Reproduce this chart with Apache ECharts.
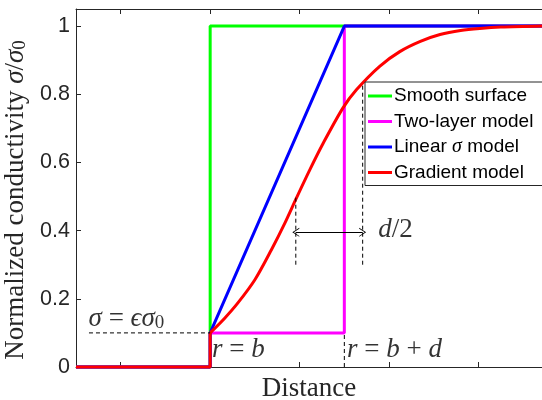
<!DOCTYPE html>
<html><head><meta charset="utf-8">
<script src="https://cdn.jsdelivr.net/npm/echarts@6/dist/echarts.min.js"></script>
<style>html,body{margin:0;padding:0;background:#fff}#c{width:542px;height:400px}</style>
</head><body><div id="c"></div>
<script>
// ---- data ----
const xTicks = [1, 3, 5, 7, 9];
const yTicks = [0, 0.2, 0.4, 0.6, 0.8, 1];
const seriesNames = ['Smooth surface', 'Two-layer model', 'Linear σ model', 'Gradient model'];
const smoothSurface = [[0, 0], [3, 0], [3, 1], [11, 1]];
const twoLayer = [[0, 0], [3, 0], [3, 0.1], [6, 0.1], [6, 1], [11, 1]];
const linearSigma = [[0, 0], [3, 0], [3, 0.1], [6, 1], [11, 1]];
const gradientStep = [[0, 0], [3, 0], [3, 0.1]];
const gradientX = [3, 3.33, 3.62, 4.0, 4.37, 4.67, 4.93, 5.23, 5.53, 5.97, 6.27, 6.79, 7.24, 7.7, 8.14, 8.6, 9.03, 9.5, 10.42];
const gradientY = [0.1, 0.144, 0.188, 0.256, 0.344, 0.422, 0.496, 0.579, 0.657, 0.760, 0.813, 0.882, 0.925, 0.955, 0.975, 0.987, 0.993, 0.997, 1.0];
// annotation geometry (data coordinates)
const dashSegs = [
  [[0.29, 0.1], [3, 0.1]],
  [[6, 0], [6, 0.1]],
  [[4.915, 0.3], [4.915, 0.5]],
  [[6.41, 0.3], [6.41, 0.833]]
];
const arrowSeg = [[4.915, 0.395], [6.41, 0.395]];
const notes = [
  {pos: [0.27, 0.14], text: '{i|σ}{t| = }{i|ϵ}{i|σ}{s|0}'},
  {pos: [3.03, 0.05], text: '{i|r}{t| = }{i|b}'},
  {pos: [6.05, 0.05], text: '{i|r}{t| = }{i|b}{t| + }{i|d}'},
  {pos: [6.75, 0.402], text: '{i|d}{t|/2}'}
];
const X_MAX = 10.42, Y_MAX = 1.05;

// ---- styles ----
const AX = '#262626';
const SERIF = 'Liberation Serif';
const SANS = 'Liberation Sans';
const richMath = {
  t: {fontFamily: SERIF, fontSize: 27, color: '#000'},
  i: {fontFamily: SERIF, fontSize: 27, fontStyle: 'italic', color: '#000'},
  s: {fontFamily: SERIF, fontSize: 19, color: '#000', lineHeight: 12, verticalAlign: 'bottom'}
};
const colors = ['#00ff00', '#ff00ff', '#0000ff', '#ff0000'];

function lineSeries(name, data, color, extra) {
  return Object.assign({
    name, type: 'line', data, showSymbol: false, symbol: 'none', clip: false,
    lineStyle: {color, width: 3}, itemStyle: {color}, animation: false, z: 3
  }, extra || {});
}

const series = [
  lineSeries(seriesNames[0], smoothSurface, colors[0]),
  lineSeries(seriesNames[1], twoLayer, colors[1]),
  lineSeries(seriesNames[2], linearSigma, colors[2]),
  lineSeries(seriesNames[3], gradientStep, colors[3]),
  lineSeries(seriesNames[3], gradientX.map((x, i) => [x, gradientY[i]]), colors[3], {smooth: 0.3})
];
dashSegs.forEach((seg, k) => series.push({
  name: '_d' + k, type: 'line', data: seg, symbol: 'none', silent: true, animation: false, clip: false, z: 4,
  lineStyle: {color: '#000', width: 1, type: [4, 3]}
}));
series.push({
  name: '_arrow', type: 'line', data: [], silent: true, animation: false, z: 4,
  markLine: {
    silent: true, animation: false,
    symbol: ['path://M0,10 L5,0 L10,10 L9,10 L5,2.2 L1,10 Z', 'path://M0,10 L5,0 L10,10 L9,10 L5,2.2 L1,10 Z'],
    symbolSize: [9, 7],
    label: {show: false},
    lineStyle: {color: '#000', width: 1, type: 'solid'},
    data: [[{coord: arrowSeg[0]}, {coord: arrowSeg[1]}]]
  }
});
series.push({
  name: '_notes', type: 'scatter', silent: true, animation: false, symbolSize: 1, z: 5,
  itemStyle: {color: 'rgba(0,0,0,0)'},
  data: notes.map(n => ({value: n.pos, label: {show: true, position: 'right', distance: 0, formatter: n.text, rich: richMath}}))
});

const chart = echarts.init(document.getElementById('c'), null, {renderer: 'canvas'});
chart.setOption({
  animation: false,
  backgroundColor: '#fff',
  grid: {left: 76, right: 0, top: 9, bottom: 33, containLabel: false, outerBoundsMode: 'none'},
  legend: {
    data: seriesNames,
    orient: 'vertical', left: 365, top: 82,
    padding: [4, 12, 3, 3],
    icon: 'rect',
    itemWidth: 24, itemHeight: 3, itemGap: 5.5,
    backgroundColor: '#fff', borderColor: AX, borderWidth: 1, borderRadius: 0,
    selectedMode: false,
    textStyle: {fontFamily: SANS, fontSize: 19, color: '#000', lineHeight: 20, padding: [0, 0, 0, -3],
      rich: {a: {fontFamily: SANS, fontSize: 19, color: '#000', lineHeight: 20}, g: {fontFamily: SERIF, fontSize: 20, fontStyle: 'italic', color: '#000', lineHeight: 20}}},
    formatter: n => n === 'Linear σ model' ? '{a|Linear }{g|σ}{a| model}' : '{a|' + n + '}'
  },
  xAxis: [{
    type: 'value', min: 0, max: X_MAX, position: 'bottom',
    name: 'Distance', nameLocation: 'middle', nameGap: 8,
    nameTextStyle: {fontFamily: SERIF, fontSize: 27, color: AX, verticalAlign: 'top'},
    axisLine: {show: true, lineStyle: {color: AX, width: 1}},
    axisTick: {show: true, inside: true, length: 5, lineStyle: {color: AX}, customValues: xTicks},
    axisLabel: {show: false},
    splitLine: {show: false}
  }, {
    type: 'value', min: 0, max: X_MAX, position: 'top',
    axisLine: {show: true, lineStyle: {color: AX, width: 1}},
    axisTick: {show: true, inside: true, length: 5, lineStyle: {color: AX}, customValues: xTicks},
    axisLabel: {show: false},
    splitLine: {show: false}
  }],
  yAxis: [{
    type: 'value', min: 0, max: Y_MAX,
    name: '{r|Normalized conductivity }{m|σ}{r|/}{m|σ}{s|0}',
    nameLocation: 'middle', nameRotate: 90, nameGap: 38,
    nameTextStyle: {padding: [0, 24, 0, 0], rich: {
      r: {fontFamily: SERIF, fontSize: 27, color: AX},
      m: {fontFamily: SERIF, fontSize: 27, fontStyle: 'italic', color: AX},
      s: {fontFamily: SERIF, fontSize: 19, color: AX, lineHeight: 12, verticalAlign: 'bottom'}
    }},
    axisLine: {show: true, lineStyle: {color: AX, width: 1}},
    axisTick: {show: true, inside: true, length: 5, lineStyle: {color: AX}, customValues: yTicks},
    axisLabel: {show: true, customValues: yTicks, fontFamily: SANS, fontSize: 21.5, color: AX, margin: 6},
    splitLine: {show: false}
  }],
  series
});
</script>
</body></html>
